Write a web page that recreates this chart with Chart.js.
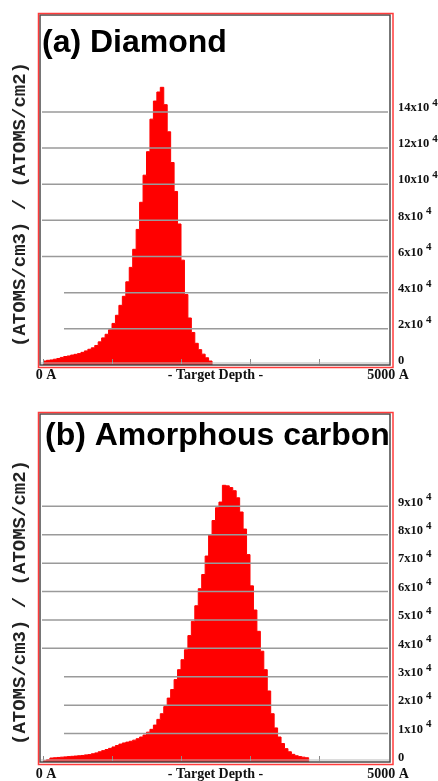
<!DOCTYPE html>
<html>
<head>
<meta charset="utf-8">
<script src="https://cdn.jsdelivr.net/npm/chart.js@4.4.1/dist/chart.umd.min.js"></script>
<style>
  html, body { margin: 0; padding: 0; background: #fff; }
  #wrap { position: relative; width: 438px; height: 781px; overflow: hidden; }
  canvas { position: absolute; left: 0; }
  #cv-a { top: 0; }
  #cv-b { top: 390px; }
</style>
</head>
<body>
<div id="wrap">
  <canvas id="cv-a" width="438" height="390"></canvas>
  <canvas id="cv-b" width="438" height="391"></canvas>
</div>
<script>
const BIN_WIDTH = 50     // Å per histogram bin
const DEPTH_MAX = 5000

// range histograms, in 10^4 (atoms/cm3)/(atoms/cm2), one value per 50 Å bin starting at 0 Å
const diamondValues = [
  0.22, 0.26, 0.28, 0.32, 0.36, 0.42, 0.47, 0.50, 0.55, 0.59,
  0.63, 0.70, 0.78, 0.87, 0.95, 1.08, 1.28, 1.50, 1.70, 1.95,
  2.30, 2.75, 3.30, 3.80, 4.60, 5.40, 6.40, 7.50, 9.00, 10.5,
  11.8, 13.6, 14.6, 15.1, 15.36, 14.4, 12.9, 11.2, 9.60, 7.80,
  5.80, 3.90, 2.60, 1.80, 1.20, 0.85, 0.60, 0.40, 0.22
]
const amorphousValues = [
  0.04, 0.08, 0.14, 0.15, 0.16, 0.17, 0.18, 0.19, 0.20, 0.21,
  0.22, 0.23, 0.25, 0.26, 0.29, 0.32, 0.36, 0.40, 0.44, 0.48,
  0.53, 0.58, 0.63, 0.67, 0.70, 0.73, 0.77, 0.82, 0.88, 0.95,
  1.05, 1.15, 1.30, 1.50, 1.70, 1.95, 2.25, 2.55, 2.90, 3.25,
  3.60, 3.95, 4.45, 4.95, 5.50, 6.10, 6.60, 7.25, 8.00, 8.50,
  8.95, 9.15, 9.74, 9.72, 9.66, 9.55, 9.30, 8.80, 8.20, 7.30,
  6.20, 5.35, 4.60, 3.90, 3.25, 2.50, 1.70, 1.20, 0.88, 0.65,
  0.47, 0.36, 0.27, 0.22, 0.19, 0.17, 0.15
]

const diamondTicks   = [0, 2, 4, 6, 8, 10, 12, 14]
const amorphousTicks = [0, 1, 2, 3, 4, 5, 6, 7, 8, 9]
const depthTicks     = [0, 1000, 2000, 3000, 4000]
const depthLabels    = ['0 A', '- Target Depth -', '5000 A']
const yTitle         = '(ATOMS/cm3) / (ATOMS/cm2)'
const EXPONENT       = '4'

const panels = [
  {
    canvas: 'cv-a', title: '(a) Diamond', values: diamondValues, ticks: diamondTicks,
    yMax: 19.36, shortBelow: 5, padTop: 15, padBottom: 25,
    titleX: 42, titleY: 52, labelGap: 14
  },
  {
    canvas: 'cv-b', title: '(b) Amorphous carbon', values: amorphousValues, ticks: amorphousTicks,
    yMax: 12.25, shortBelow: 3.5, padTop: 24, padBottom: 19,
    titleX: 45, titleY: 54.5, labelGap: 16
  }
]

// frame, grid lines over the fill, right-hand tick labels and captions
const trimFrame = {
  id: 'trimFrame',
  afterDatasetsDraw(chart, args, opts) {
    const { ctx, chartArea: a, scales: { x, y } } = chart
    ctx.save()

    ctx.strokeStyle = '#9a9a9a'
    ctx.lineWidth = 1.5
    opts.ticks.forEach(v => {
      if (v === 0) return
      const py = y.getPixelForValue(v)
      const x0 = v < opts.shortBelow ? a.left + 21 : a.left - 1
      ctx.beginPath(); ctx.moveTo(x0, py); ctx.lineTo(a.right, py); ctx.stroke()
    })

    // bottom ticks
    ctx.strokeStyle = '#8a8a8a'
    ctx.lineWidth = 1
    depthTicks.forEach(d => {
      const px = Math.round(x.getPixelForValue(d)) + 0.5
      ctx.beginPath(); ctx.moveTo(px, a.bottom - 1); ctx.lineTo(px, a.bottom - 6); ctx.stroke()
    })
    ctx.strokeStyle = '#b8b8b8'
    ctx.beginPath(); ctx.moveTo(a.left - 2, a.bottom - 2); ctx.lineTo(a.right + 1, a.bottom - 2); ctx.stroke()

    // double frame
    ctx.strokeStyle = '#4a4a4a'
    ctx.lineWidth = 1.5
    ctx.strokeRect(a.left - 3, a.top, a.right - a.left + 5, a.bottom - a.top)
    ctx.strokeStyle = '#ff3b3b'
    ctx.lineWidth = 1.5
    ctx.strokeRect(a.left - 4.5, a.top - 1.5, a.right - a.left + 9.5, a.bottom - a.top + 4)

    // right tick labels
    ctx.fillStyle = '#111'
    ctx.textAlign = 'left'
    ctx.textBaseline = 'middle'
    opts.ticks.forEach(v => {
      const py = y.getPixelForValue(v) - 4
      const lx = a.right + 10
      ctx.font = 'bold 12.5px "Liberation Serif"'
      if (v === 0) { ctx.fillText('0', lx, py); return }
      const main = v + 'x10'
      ctx.fillText(main, lx, py)
      const w = ctx.measureText(main).width
      ctx.font = 'bold 11px "Liberation Serif"'
      ctx.fillText(EXPONENT, lx + w + 3, py - 5)
    })

    // depth captions
    ctx.font = 'bold 14px "Liberation Serif"'
    ctx.textAlign = 'center'
    ctx.textBaseline = 'alphabetic'
    const ly = a.bottom + opts.labelGap
    ctx.fillText(depthLabels[0], x.getPixelForValue(0) + 3, ly)
    ctx.fillText(depthLabels[1], (a.left + a.right) / 2, ly)
    ctx.fillText(depthLabels[2], x.getPixelForValue(DEPTH_MAX), ly)

    // title
    ctx.font = 'bold 32px "Liberation Sans"'
    ctx.textAlign = 'left'
    ctx.fillStyle = '#000'
    ctx.fillText(opts.title, opts.titleX, opts.titleY)

    // rotated y caption
    ctx.translate(20, (a.top + a.bottom) / 2 + 14.5)
    ctx.rotate(-Math.PI / 2)
    ctx.font = 'bold 19px "Liberation Mono"'
    ctx.textAlign = 'center'
    ctx.textBaseline = 'middle'
    ctx.fillStyle = '#222'
    ctx.fillText(yTitle, 0, 0)

    ctx.restore()
  }
}

panels.forEach(p => {
  const points = p.values.map((v, i) => ({ x: i * BIN_WIDTH, y: v }))
  points.push({ x: p.values.length * BIN_WIDTH, y: 0 })

  new Chart(document.getElementById(p.canvas), {
    type: 'line',
    data: {
      datasets: [{
        data: points,
        stepped: true,
        fill: 'origin',
        backgroundColor: '#ff0000',
        borderColor: '#ff0000',
        borderWidth: 1,
        pointRadius: 0
      }]
    },
    options: {
      responsive: false,
      animation: false,
      devicePixelRatio: 1,
      events: [],
      layout: { padding: { left: 43, right: 50, top: p.padTop, bottom: p.padBottom } },
      scales: {
        x: { type: 'linear', min: 0, max: DEPTH_MAX, display: false },
        y: { type: 'linear', min: 0, max: p.yMax, display: false }
      },
      plugins: {
        legend: { display: false },
        tooltip: { enabled: false },
        trimFrame: {
          ticks: p.ticks, shortBelow: p.shortBelow, title: p.title,
          titleX: p.titleX, titleY: p.titleY, labelGap: p.labelGap
        }
      }
    },
    plugins: [trimFrame]
  })
})
</script>
</body>
</html>
